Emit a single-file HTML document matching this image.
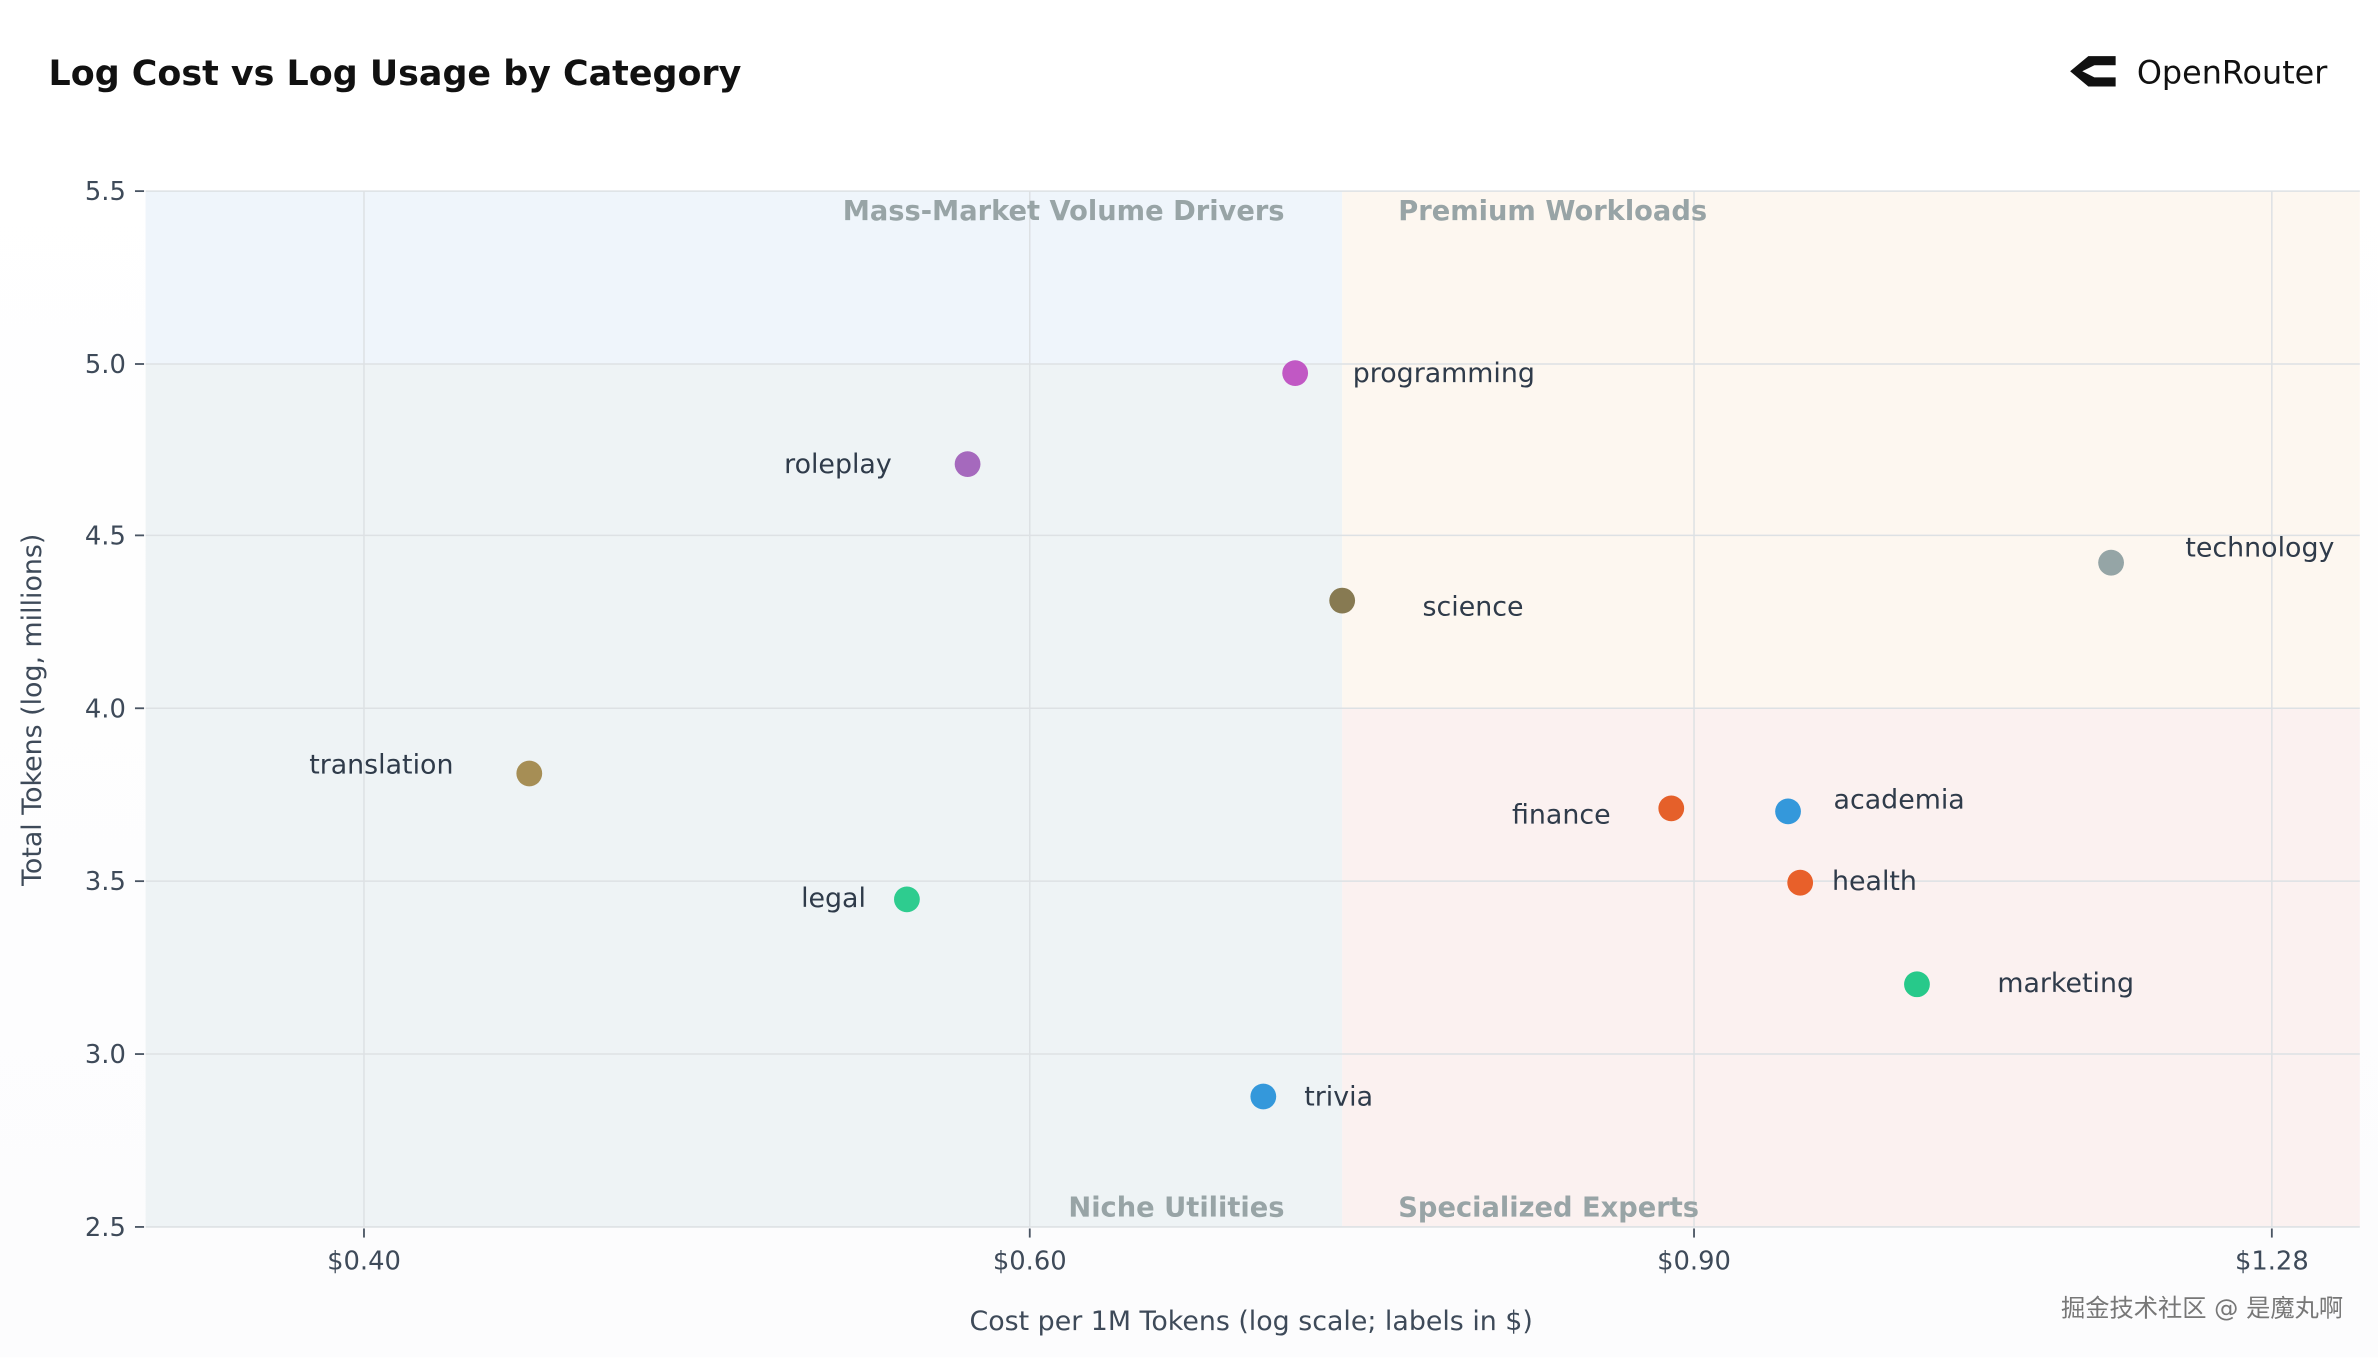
<!DOCTYPE html>
<html><head><meta charset="utf-8"><style>
html,body{margin:0;padding:0;background:#fff;}
svg{display:block;}
text{font-family:"DejaVu Sans","Liberation Sans",sans-serif;}
</style></head><body>
<svg width="2378" height="1358" viewBox="0 0 1568 895.4" xmlns="http://www.w3.org/2000/svg">
<defs><linearGradient id="bg" x1="0" y1="0" x2="0" y2="1"><stop offset="0" stop-color="#fff"/><stop offset="1" stop-color="#fcfcfd"/></linearGradient></defs>
<rect width="1568" height="895.4" fill="#fff"/>
<rect x="0" y="80" width="1568" height="815" fill="url(#bg)"/>
<rect x="96" y="126" width="789" height="114" fill="#eff5fb"/>
<rect x="96" y="240" width="789" height="569" fill="#eef3f5"/>
<rect x="885" y="126" width="671" height="341" fill="#fdf7f0"/>
<rect x="885" y="467" width="671" height="342" fill="#fbf1f0"/>
<g stroke="#dde1e4" stroke-width="1">
<line x1="96" y1="126" x2="1556" y2="126"/>
<line x1="96" y1="240" x2="1556" y2="240"/>
<line x1="96" y1="353" x2="1556" y2="353"/>
<line x1="96" y1="467" x2="1556" y2="467"/>
<line x1="96" y1="581" x2="1556" y2="581"/>
<line x1="96" y1="695" x2="1556" y2="695"/>
<line x1="96" y1="809" x2="1556" y2="809"/>
<line x1="240" y1="126" x2="240" y2="809"/>
<line x1="679" y1="126" x2="679" y2="809"/>
<line x1="1117" y1="126" x2="1117" y2="809"/>
<line x1="1498" y1="126" x2="1498" y2="809"/>
</g>
<g stroke="#4a5563" stroke-width="1.2">
<line x1="89" y1="126" x2="95" y2="126"/><line x1="89" y1="240" x2="95" y2="240"/><line x1="89" y1="353" x2="95" y2="353"/><line x1="89" y1="467" x2="95" y2="467"/><line x1="89" y1="581" x2="95" y2="581"/><line x1="89" y1="695" x2="95" y2="695"/><line x1="89" y1="809" x2="95" y2="809"/>
<line x1="240" y1="810" x2="240" y2="816"/><line x1="679" y1="810" x2="679" y2="816"/><line x1="1117" y1="810" x2="1117" y2="816"/><line x1="1498" y1="810" x2="1498" y2="816"/>
</g>
<g font-size="17" fill="#3e4a59" text-anchor="end">
<text x="83" y="132">5.5</text><text x="83" y="246">5.0</text><text x="83" y="359">4.5</text><text x="83" y="473">4.0</text><text x="83" y="587">3.5</text><text x="83" y="701">3.0</text><text x="83" y="815">2.5</text>
</g>
<g font-size="17" fill="#3e4a59" text-anchor="middle">
<text x="240" y="837">$0.40</text><text x="679" y="837">$0.60</text><text x="1117" y="837">$0.90</text><text x="1498" y="837">$1.28</text>
<text x="825" y="877" font-size="17.7">Cost per 1M Tokens (log scale; labels in $)</text>
<text transform="translate(27,468) rotate(-90)" font-size="17.7">Total Tokens (log, millions)</text>
</g>
<g font-size="18" font-weight="bold" fill="#98a4a6">
<text x="847" y="145" text-anchor="end">Mass-Market Volume Drivers</text>
<text x="922" y="145">Premium Workloads</text>
<text x="847" y="802" text-anchor="end">Niche Utilities</text>
<text x="922" y="802">Specialized Experts</text>
</g>
<g>
<circle cx="854" cy="246" r="8.5" fill="#c158c4"/>
<circle cx="638" cy="306" r="8.5" fill="#a569bd"/>
<circle cx="885" cy="396" r="8.5" fill="#877a52"/>
<circle cx="1392" cy="371" r="8.5" fill="#95a5a6"/>
<circle cx="349" cy="510" r="8.5" fill="#a68e55"/>
<circle cx="598" cy="593" r="8.5" fill="#2ecc8f"/>
<circle cx="1102" cy="533" r="8.5" fill="#e5602a"/>
<circle cx="1179" cy="535" r="8.5" fill="#3498db"/>
<circle cx="1187" cy="582" r="8.5" fill="#e8602a"/>
<circle cx="1264" cy="649" r="8.5" fill="#27c98a"/>
<circle cx="833" cy="723" r="8.5" fill="#3498db"/>
</g>
<g font-size="17.7" fill="#2f3b4a">
<text x="892" y="252">programming</text>
<text x="588" y="312" text-anchor="end">roleplay</text>
<text x="938" y="406">science</text>
<text x="1441" y="367">technology</text>
<text x="299" y="510" text-anchor="end">translation</text>
<text x="571" y="598" text-anchor="end">legal</text>
<text x="1062" y="543" text-anchor="end">finance</text>
<text x="1209" y="533">academia</text>
<text x="1208" y="587">health</text>
<text x="1317" y="654">marketing</text>
<text x="860" y="729">trivia</text>
</g>
<text x="32" y="56" font-size="23" font-weight="bold" fill="#111" font-family="Liberation Sans, sans-serif">Log Cost vs Log Usage by Category</text>
<g transform="translate(1365,35)">
<path d="M0 12 L12 2 L30 2 L30 8 L16 8 L8 12 L16 16 L30 16 L30 22 L12 22 Z" fill="#111"/>
</g>
<text x="1409" y="55" font-size="21" fill="#111" font-family="Liberation Sans, sans-serif">OpenRouter</text>
<text x="1545" y="868" font-size="16" fill="#777" text-anchor="end" font-family="Liberation Sans, 'Noto Sans CJK SC', sans-serif">掘金技术社区 @ 是魔丸啊</text>
</svg>
</body></html>
